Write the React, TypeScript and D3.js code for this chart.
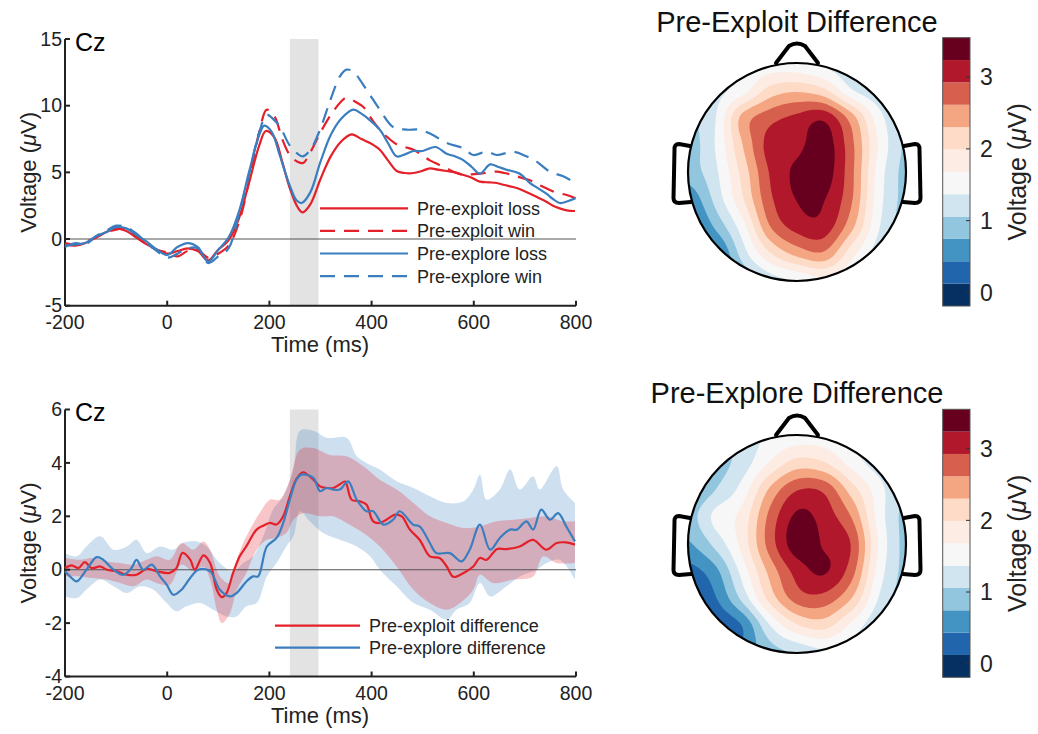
import React from 'react';
import * as d3 from 'd3';

// ---------- axis ticks / labels ----------
const timeTicks = [-200, 0, 200, 400, 600, 800];
const erpTicks = [-5, 0, 5, 10, 15];
const diffTicks = [-4, -2, 0, 2, 4, 6];
const cbarTicks = [0, 1, 2, 3];
const analysisWindow = [240, 296];

// ---------- ERP waveforms (time ms, voltage µV) ----------
const preExploitLoss: [number, number][] = [
  [-200,-0.4],[-180,-0.5],[-160,-0.3],[-140,0.1],[-120,0.5],[-100,0.8],[-80,0.6],[-60,0.1],[-40,-0.4],[-20,-0.8],[0,-1.1],[20,-0.9],[40,-0.7],[60,-0.9],[80,-1.6],[100,-0.8],[120,-0.1],[140,1.5],[160,4.2],[180,7.0],[193,8.1],[210,7.6],[225,5.8],[240,3.8],[255,2.4],[265,2.0],[280,2.6],[300,4.5],[320,6.2],[340,7.3],[361,7.85],[380,7.5],[397,7.2],[416,6.7],[432,5.9],[449,5.1],[465,4.95],[482,4.95],[498,5.1],[514,5.3],[530,5.2],[547,5.1],[563,5.0],[580,4.8],[596,4.6],[612,4.3],[630,4.25],[645,4.2],[660,4.05],[677,3.9],[693,3.7],[710,3.4],[726,3.1],[742,2.8],[755,2.5],[768,2.3],[782,2.15],[798,2.1],
];
const preExploitWin: [number, number][] = [
  [-200,-0.3],[-180,-0.4],[-160,-0.2],[-140,0.1],[-120,0.5],[-100,0.7],[-80,0.8],[-60,0.2],[-40,-0.4],[-20,-0.8],[0,-1.0],[20,-1.3],[40,-0.9],[60,-0.8],[80,-1.4],[100,-1.1],[120,-0.5],[140,1.2],[160,4.3],[180,8.0],[195,9.7],[210,9.2],[225,7.5],[240,6.3],[255,5.8],[266,5.7],[280,6.5],[300,8.0],[320,9.3],[340,10.3],[351,10.6],[368,10.3],[384,9.9],[400,9.0],[416,8.2],[432,7.6],[449,7.1],[465,6.9],[482,6.7],[498,6.3],[514,5.9],[530,5.6],[547,5.3],[563,5.0],[580,4.8],[596,4.85],[612,4.9],[630,5.0],[645,5.05],[660,4.95],[677,4.8],[693,4.6],[710,4.4],[726,4.1],[742,3.8],[760,3.5],[782,3.3],[799,3.05],
];
const preExploreLoss: [number, number][] = [
  [-200,-0.5],[-180,-0.4],[-160,-0.3],[-140,0.2],[-120,0.5],[-100,0.9],[-80,0.8],[-60,0.3],[-40,-0.2],[-20,-0.8],[0,-1.2],[20,-0.6],[40,-0.3],[60,-0.6],[80,-1.7],[100,-0.8],[120,0.1],[140,2.0],[160,5.0],[180,7.8],[190,8.5],[205,8.0],[220,6.3],[240,4.0],[253,2.9],[263,2.7],[280,3.5],[300,5.8],[320,7.8],[340,9.0],[364,9.7],[380,9.4],[397,8.9],[416,8.2],[432,7.2],[449,6.2],[462,6.3],[482,6.6],[500,6.6],[525,6.9],[547,6.4],[563,6.2],[580,5.9],[596,5.4],[612,4.9],[632,5.6],[648,5.4],[664,5.2],[690,4.9],[710,4.2],[726,3.8],[742,3.4],[755,3.0],[768,2.7],[785,2.85],[799,3.05],
];
const preExploreWin: [number, number][] = [
  [-200,-0.6],[-180,-0.3],[-160,-0.4],[-140,0.2],[-120,0.6],[-100,1.0],[-80,0.9],[-60,0.4],[-40,-0.3],[-20,-0.9],[0,-1.4],[20,-1.1],[40,-0.7],[60,-0.7],[80,-1.8],[100,-1.3],[120,-0.7],[140,1.8],[160,4.8],[180,8.0],[195,9.3],[210,8.9],[221,8.4],[240,7.0],[255,6.4],[266,6.2],[282,6.8],[299,8.2],[320,10.5],[338,12.2],[351,12.7],[364,12.55],[390,11.2],[416,9.7],[442,8.4],[468,8.2],[494,8.2],[520,7.8],[547,7.2],[580,6.8],[599,6.3],[625,6.55],[645,6.3],[677,6.55],[703,6.2],[723,5.8],[749,5.05],[775,4.7],[799,4.2],
];

// ---------- difference waves ----------
const exploitDiff: [number, number][] = [
  [-200,0.06],[-187,0.16],[-174,0.06],[-161,0.28],[-148,0.06],[-131,0.12],[-118,0.0],[-99,-0.06],[-79,-0.19],[-60,-0.19],[-40,0.03],[-21,-0.06],[5,-0.12],[18,0.06],[30,0.63],[45,0.38],[54,0.0],[71,0.54],[84,0.25],[97,-0.75],[107,-1.03],[116,-0.88],[129,-0.12],[142,0.5],[155,0.88],[175,1.5],[188,1.65],[201,1.75],[214,1.69],[227,2.0],[240,2.75],[253,3.4],[266,3.65],[286,3.37],[299,3.12],[312,3.06],[325,3.06],[338,3.2],[348,3.3],[361,2.62],[377,2.56],[390,2.44],[403,1.81],[416,1.75],[429,1.87],[446,2.06],[459,2.0],[475,1.5],[494,1.12],[514,0.5],[533,0.44],[547,0.12],[560,-0.27],[580,-0.12],[599,0.12],[612,0.44],[625,0.37],[645,0.77],[664,0.77],[690,0.87],[716,1.12],[742,0.75],[762,1.0],[781,1.02],[798,0.94],
];
const exploreDiff: [number, number][] = [
  [-200,-0.06],[-187,-0.31],[-177,-0.44],[-158,0.0],[-138,0.47],[-125,0.37],[-105,0.0],[-86,-0.19],[-70,0.06],[-60,0.37],[-47,0.0],[-30,0.19],[-14,-0.25],[-1,-0.56],[12,-0.94],[28,-0.75],[45,-0.31],[61,0.0],[84,-0.06],[103,-0.75],[123,-1.0],[136,-0.87],[155,-0.44],[168,-0.25],[178,-0.25],[195,0.87],[214,1.19],[227,1.75],[240,2.62],[253,3.37],[263,3.56],[286,3.44],[299,2.94],[312,3.06],[325,3.0],[338,3.0],[354,3.31],[371,2.62],[390,2.19],[403,2.19],[423,1.69],[442,1.87],[455,2.19],[481,1.69],[494,1.62],[514,1.0],[527,0.62],[553,0.62],[576,0.31],[592,0.75],[612,1.69],[632,0.75],[651,1.19],[671,1.5],[684,1.5],[703,1.81],[716,1.5],[732,2.25],[749,1.87],[765,2.12],[781,1.62],[798,1.06],
];
const exploitDiffUpper: [number, number][] = [
  [-200,0.44],[-170,0.37],[-148,0.44],[-118,0.31],[-92,0.25],[-66,0.19],[-40,0.37],[-21,0.5],[5,0.37],[28,1.0],[51,0.75],[71,1.06],[84,0.75],[103,-0.25],[123,-0.5],[136,0.37],[155,1.25],[181,2.12],[201,2.62],[220,2.62],[240,3.37],[260,4.5],[286,4.56],[318,4.3],[351,4.25],[384,3.87],[416,3.37],[449,3.0],[482,2.5],[514,2.0],[547,1.75],[580,1.56],[612,1.62],[645,1.81],[677,1.87],[710,1.94],[742,2.0],[775,1.81],[798,1.81],
];
const exploitDiffLower: [number, number][] = [
  [-200,-0.25],[-170,-0.25],[-148,-0.31],[-118,-0.37],[-92,-0.5],[-66,-0.62],[-40,-0.37],[-21,-0.5],[5,-0.56],[28,0.19],[51,-0.06],[71,0.12],[84,-0.37],[97,-1.5],[107,-2.0],[123,-1.62],[136,-0.75],[155,-0.12],[175,0.75],[195,1.12],[214,1.19],[233,1.37],[247,1.87],[266,2.12],[299,2.0],[325,2.0],[351,1.75],[384,1.37],[416,0.87],[449,0.12],[482,-0.75],[514,-1.25],[547,-1.5],[573,-1.25],[599,-0.75],[612,-0.19],[638,-0.5],[677,-0.37],[716,-0.25],[736,0.5],[762,0.25],[798,0.25],
];
const exploreDiffUpper: [number, number][] = [
  [-200,0.62],[-177,0.5],[-158,0.87],[-131,1.25],[-105,0.75],[-79,0.87],[-60,1.12],[-40,0.62],[-14,0.87],[12,0.75],[31,1.0],[58,1.06],[77,0.87],[103,0.25],[129,-0.06],[149,0.25],[168,0.5],[188,1.25],[207,2.25],[227,2.75],[247,3.75],[260,5.2],[286,5.2],[312,4.94],[351,4.94],[371,4.25],[390,4.0],[416,3.75],[449,3.31],[482,3.06],[514,2.75],[547,2.5],[580,2.56],[599,3.0],[612,3.56],[625,2.62],[651,3.0],[671,3.75],[690,3.0],[716,3.5],[729,3.0],[762,3.87],[775,3.0],[798,2.5],
];
const exploreDiffLower: [number, number][] = [
  [-200,-1.0],[-177,-1.06],[-158,-0.75],[-131,-0.37],[-105,-0.62],[-79,-0.87],[-53,-0.62],[-27,-0.75],[-1,-1.25],[18,-1.56],[38,-1.37],[64,-1.25],[90,-1.5],[116,-1.75],[136,-1.75],[155,-1.37],[175,-1.25],[195,-0.25],[214,0.25],[233,0.87],[247,1.25],[260,2.19],[279,1.81],[305,1.37],[338,1.12],[371,0.87],[397,0.5],[416,0.0],[449,-0.62],[482,-1.25],[514,-1.5],[547,-1.87],[566,-1.5],[592,-1.25],[612,-0.5],[632,-1.0],[664,-0.62],[690,-0.25],[723,0.0],[742,0.25],[768,0.37],[798,-0.37],
];

// ---------- scalp maps: 9x9 grid over the head (rows front->back, cols left->right), µV ----------
const exploitTopo: number[][] = [
  [1.0, 1.2, 1.4, 1.5, 1.45, 1.3, 1.1, 0.95, 0.9],
  [1.1, 1.25, 1.55, 2.1, 2.25, 2.05, 1.4, 1.1, 0.9],
  [1.0, 1.35, 2.4, 2.8, 3.0, 3.15, 2.45, 1.5, 1.0],
  [0.9, 1.38, 2.3, 3.05, 3.15, 3.4, 2.7, 1.65, 1.0],
  [0.9, 1.3, 2.1, 2.95, 3.3, 3.4, 2.7, 1.55, 0.95],
  [0.5, 1.15, 1.95, 2.85, 3.25, 3.25, 2.65, 1.5, 0.95],
  [0.2, 0.8, 1.55, 2.6, 3.05, 3.1, 2.4, 1.4, 0.9],
  [0.0, 0.3, 1.2, 1.95, 2.4, 2.55, 1.8, 1.2, 0.9],
  [0.0, 0.3, 0.8, 1.2, 1.4, 1.6, 1.4, 1.1, 0.9],
];
const exploreTopo: number[][] = [
  [0.9, 1.0, 1.2, 1.4, 1.5, 1.5, 1.3, 1.1, 1.0],
  [0.7, 0.9, 1.2, 1.7, 2.1, 2.0, 1.55, 1.2, 1.0],
  [0.7, 1.05, 1.5, 2.35, 2.9, 2.85, 2.15, 1.5, 1.0],
  [0.9, 1.45, 1.8, 2.7, 3.3, 3.1, 2.6, 1.55, 0.95],
  [0.7, 1.15, 1.8, 2.75, 3.4, 3.2, 2.9, 1.65, 0.95],
  [0.3, 0.65, 1.5, 2.4, 3.05, 3.27, 2.75, 1.55, 0.95],
  [0.0, 0.4, 1.15, 2.1, 2.75, 2.8, 2.3, 1.35, 0.9],
  [-0.2, 0.1, 0.45, 1.35, 1.95, 2.1, 1.6, 1.1, 0.9],
  [-0.3, 0.0, 0.5, 0.9, 1.1, 1.3, 1.2, 1.0, 0.9],
];
const colorRange = [-0.19, 3.55];
const bandColors = ['#053061','#2166ac','#4393c3','#92c5de','#d1e5f0','#f7f7f7','#fcece4','#fddbc7','#f4a582','#d6604d','#b2182b','#67001f'];

// ---------- styling ----------
const FONT = '"Liberation Sans", Arial, Helvetica, sans-serif';
const RED = '#e4202a';
const BLUE = '#3a7ebf';
const INK = '#222';

const xTime = d3.scaleLinear().domain([-200, 800]).range([65, 576]);
const yErp = d3.scaleLinear().domain([-5, 15]).range([305.7, 39]);
const yDiff = d3.scaleLinear().domain([-4, 6]).range([676.5, 409.5]);

function lineFor(y: d3.ScaleLinear<number, number>) {
  return d3.line<[number, number]>().x(d => xTime(d[0])).y(d => y(d[1])).curve(d3.curveCatmullRom.alpha(0.5));
}

function bandPath(y: d3.ScaleLinear<number, number>, upper: [number, number][], lower: [number, number][]) {
  const l = lineFor(y);
  const up = l(upper) || '';
  const lo = (l([...lower].reverse()) || '').replace(/^M/, 'L');
  return up + lo + 'Z';
}

function Axes({ y, ticks }: { y: d3.ScaleLinear<number, number>; ticks: number[] }) {
  const [y0, y1] = y.range();
  const x0 = xTime.range()[0], x1 = xTime.range()[1];
  return (
    <g>
      <line x1={x0} x2={x1} y1={y(0)} y2={y(0)} stroke="#555" strokeWidth={1.1} />
      <line x1={x0} x2={x0} y1={y1} y2={y0} stroke={INK} strokeWidth={2} />
      <line x1={x0} x2={x1} y1={y0} y2={y0} stroke={INK} strokeWidth={2} />
      {timeTicks.map(t => (
        <g key={'x' + t}>
          <line x1={xTime(t)} x2={xTime(t)} y1={y0} y2={y0 - 5} stroke={INK} strokeWidth={2} />
          <text x={xTime(t)} y={y0 + 23} textAnchor="middle" fontSize={19.5} fill={INK}>{t}</text>
        </g>
      ))}
      {ticks.map(v => (
        <g key={'y' + v}>
          <line x1={x0} x2={x0 + 5} y1={y(v)} y2={y(v)} stroke={INK} strokeWidth={2} />
          <text x={x0 - 3} y={y(v)} dy="0.34em" textAnchor="end" fontSize={19.5} fill={INK}>{v}</text>
        </g>
      ))}
      <text x={320} y={y0 + 46} textAnchor="middle" fontSize={22} fill={INK}>Time (ms)</text>
      <text transform={`translate(36,${(y0 + y1) / 2}) rotate(-90)`} textAnchor="middle" fontSize={22} fill={INK}>
        Voltage (<tspan fontStyle="italic">μ</tspan>V)
      </text>
      <text x={75} y={y1 + 11.5} fontSize={25} fill="#000">Cz</text>
    </g>
  );
}

function ErpPanel() {
  const l = lineFor(yErp);
  const series = [
    { d: preExploitLoss, c: RED, dash: undefined, label: 'Pre-exploit loss' },
    { d: preExploitWin, c: RED, dash: '15,9', label: 'Pre-exploit win' },
    { d: preExploreLoss, c: BLUE, dash: undefined, label: 'Pre-explore loss' },
    { d: preExploreWin, c: BLUE, dash: '15,9', label: 'Pre-explore win' },
  ];
  return (
    <g>
      <rect x={xTime(analysisWindow[0])} width={xTime(analysisWindow[1]) - xTime(analysisWindow[0])} y={yErp(15)} height={yErp(-5) - yErp(15)} fill="#e3e3e3" />
      <Axes y={yErp} ticks={erpTicks} />
      {series.map((s, i) => (
        <path key={i} d={l(s.d) || ''} fill="none" stroke={s.c} strokeWidth={2.2} strokeDasharray={s.dash} />
      ))}
      {series.map((s, i) => (
        <g key={'lg' + i}>
          <line x1={320} x2={408} y1={208.3 + i * 22.6} y2={208.3 + i * 22.6} stroke={s.c} strokeWidth={2.2} strokeDasharray={s.dash} />
          <text x={417} y={208.3 + i * 22.6} dy="0.36em" fontSize={18} fill={INK}>{s.label}</text>
        </g>
      ))}
    </g>
  );
}

function DiffPanel() {
  const l = lineFor(yDiff);
  return (
    <g>
      <rect x={xTime(analysisWindow[0])} width={xTime(analysisWindow[1]) - xTime(analysisWindow[0])} y={yDiff(6)} height={yDiff(-4) - yDiff(6)} fill="#e3e3e3" />
      <path d={bandPath(yDiff, exploreDiffUpper, exploreDiffLower)} fill={BLUE} fillOpacity={0.25} />
      <path d={bandPath(yDiff, exploitDiffUpper, exploitDiffLower)} fill={RED} fillOpacity={0.26} />
      <Axes y={yDiff} ticks={diffTicks} />
      <path d={l(exploitDiff) || ''} fill="none" stroke={RED} strokeWidth={2.2} />
      <path d={l(exploreDiff) || ''} fill="none" stroke={BLUE} strokeWidth={2.2} />
      {[{ c: RED, t: 'Pre-exploit difference' }, { c: BLUE, t: 'Pre-explore difference' }].map((s, i) => (
        <g key={i}>
          <line x1={275} x2={360} y1={625.7 + i * 22} y2={625.7 + i * 22} stroke={s.c} strokeWidth={2.2} />
          <text x={369} y={625.7 + i * 22} dy="0.36em" fontSize={18} fill={INK}>{s.t}</text>
        </g>
      ))}
    </g>
  );
}

function upsample(grid: number[][], n: number): number[] {
  const rows = grid.length, cols = grid[0].length;
  const get = (r: number, c: number) => grid[Math.max(0, Math.min(rows - 1, r))][Math.max(0, Math.min(cols - 1, c))];
  const cr = (p0: number, p1: number, p2: number, p3: number, t: number) =>
    0.5 * (2 * p1 + (-p0 + p2) * t + (2 * p0 - 5 * p1 + 4 * p2 - p3) * t * t + (-p0 + 3 * p1 - 3 * p2 + p3) * t * t * t);
  const out = new Array(n * n);
  for (let j = 0; j < n; j++) {
    const gy = (j / (n - 1)) * (rows - 1);
    const r = Math.min(Math.floor(gy), rows - 2);
    const ty = gy - r;
    for (let i = 0; i < n; i++) {
      const gx = (i / (n - 1)) * (cols - 1);
      const c = Math.min(Math.floor(gx), cols - 2);
      const tx = gx - c;
      const col = [-1, 0, 1, 2].map(k => cr(get(r + k, c - 1), get(r + k, c), get(r + k, c + 1), get(r + k, c + 2), tx));
      out[j * n + i] = cr(col[0], col[1], col[2], col[3], ty);
    }
  }
  return out;
}

function Topo({ grid, cx, cy, title, titleY, cbTop, cbBottom, id }: {
  grid: number[][]; cx: number; cy: number; title: string; titleY: number; cbTop: number; cbBottom: number; id: string;
}) {
  const R = 109;
  const n = 121;
  const values = upsample(grid, n);
  const nb = bandColors.length;
  const step = (colorRange[1] - colorRange[0]) / nb;
  const thresholds = d3.range(1, nb).map(k => colorRange[0] + k * step);
  const contours = d3.contours().size([n, n]).thresholds(thresholds)(values);
  const proj = d3.geoTransform({
    point(x: number, y: number) {
      (this as any).stream.point(cx + (((x - 0.5) / (n - 1)) * 2 - 1) * R, cy + (((y - 0.5) / (n - 1)) * 2 - 1) * R);
    },
  });
  const path = d3.geoPath(proj as any);
  const cbX = 942.7, cbW = 27.3;
  const cbScale = d3.scaleLinear().domain(colorRange).range([cbBottom, cbTop]);
  const earL = `M${cx - 107},${cy - 26} L${cx - 118},${cy - 28} Q${cx - 123},${cy - 28} ${cx - 122.5},${cy - 22} L${cx - 123.5},${cy + 26} Q${cx - 123.5},${cy + 31} ${cx - 118},${cy + 31} L${cx - 106},${cy + 30}`;
  const earR = `M${cx + 107},${cy - 26} L${cx + 118},${cy - 28} Q${cx + 123},${cy - 28} ${cx + 122.5},${cy - 22} L${cx + 123.5},${cy + 26} Q${cx + 123.5},${cy + 31} ${cx + 118},${cy + 31} L${cx + 106},${cy + 30}`;
  const nose = `M${cx - 21},${cy - 109} L${cx - 8},${cy - 126} Q${cx},${cy - 131} ${cx + 8},${cy - 126} L${cx + 21},${cy - 109}`;
  return (
    <g>
      <text x={cx} y={titleY} textAnchor="middle" fontSize={29} fill="#111">{title}</text>
      <defs>
        <clipPath id={id}>
          <circle cx={cx} cy={cy} r={R} />
        </clipPath>
      </defs>
      <g clipPath={`url(#${id})`}>
        <rect x={cx - R - 2} y={cy - R - 2} width={2 * R + 4} height={2 * R + 4} fill={bandColors[0]} />
        {contours.map((c, i) => (
          <path key={i} d={path(c as any) || ''} fill={bandColors[i + 1]} />
        ))}
      </g>
      <circle cx={cx} cy={cy} r={R} fill="none" stroke="#000" strokeWidth={2.2} />
      <path d={nose} fill="none" stroke="#000" strokeWidth={4} strokeLinejoin="round" strokeLinecap="round" />
      <path d={earL} fill="none" stroke="#000" strokeWidth={4} strokeLinejoin="round" strokeLinecap="round" />
      <path d={earR} fill="none" stroke="#000" strokeWidth={4} strokeLinejoin="round" strokeLinecap="round" />
      {bandColors.map((col, k) => (
        <rect key={k} x={cbX} width={cbW} y={cbScale(colorRange[0] + (k + 1) * step)} height={cbScale(colorRange[0] + k * step) - cbScale(colorRange[0] + (k + 1) * step)} fill={col} />
      ))}
      <rect x={cbX} y={cbTop} width={cbW} height={cbBottom - cbTop} fill="none" stroke="#555" strokeWidth={1} />
      {cbarTicks.map(v => (
        <g key={v}>
          <line x1={cbX + cbW - 4} x2={cbX + cbW} y1={cbScale(v)} y2={cbScale(v)} stroke="#333" strokeWidth={1} />
          <text x={980} y={cbScale(v)} dy="0.36em" fontSize={23} fill={INK}>{v}</text>
        </g>
      ))}
      <text transform={`translate(1026,${(cbTop + cbBottom) / 2}) rotate(-90)`} textAnchor="middle" fontSize={25} fill={INK}>
        Voltage (<tspan fontStyle="italic">μ</tspan>V)
      </text>
    </g>
  );
}

export default function App() {
  return (
    <svg width={1038} height={734} viewBox="0 0 1038 734" style={{ position: 'absolute', left: 0, top: 0, background: '#fff' }} fontFamily={FONT}>
      <rect width={1038} height={734} fill="#fff" />
      <ErpPanel />
      <DiffPanel />
      <Topo grid={exploitTopo} cx={797} cy={172} title="Pre-Exploit Difference" titleY={32} cbTop={37.7} cbBottom={306} id="clipA" />
      <Topo grid={exploreTopo} cx={797} cy={544} title="Pre-Explore Difference" titleY={403} cbTop={409.3} cbBottom={677.3} id="clipB" />
    </svg>
  );
}
